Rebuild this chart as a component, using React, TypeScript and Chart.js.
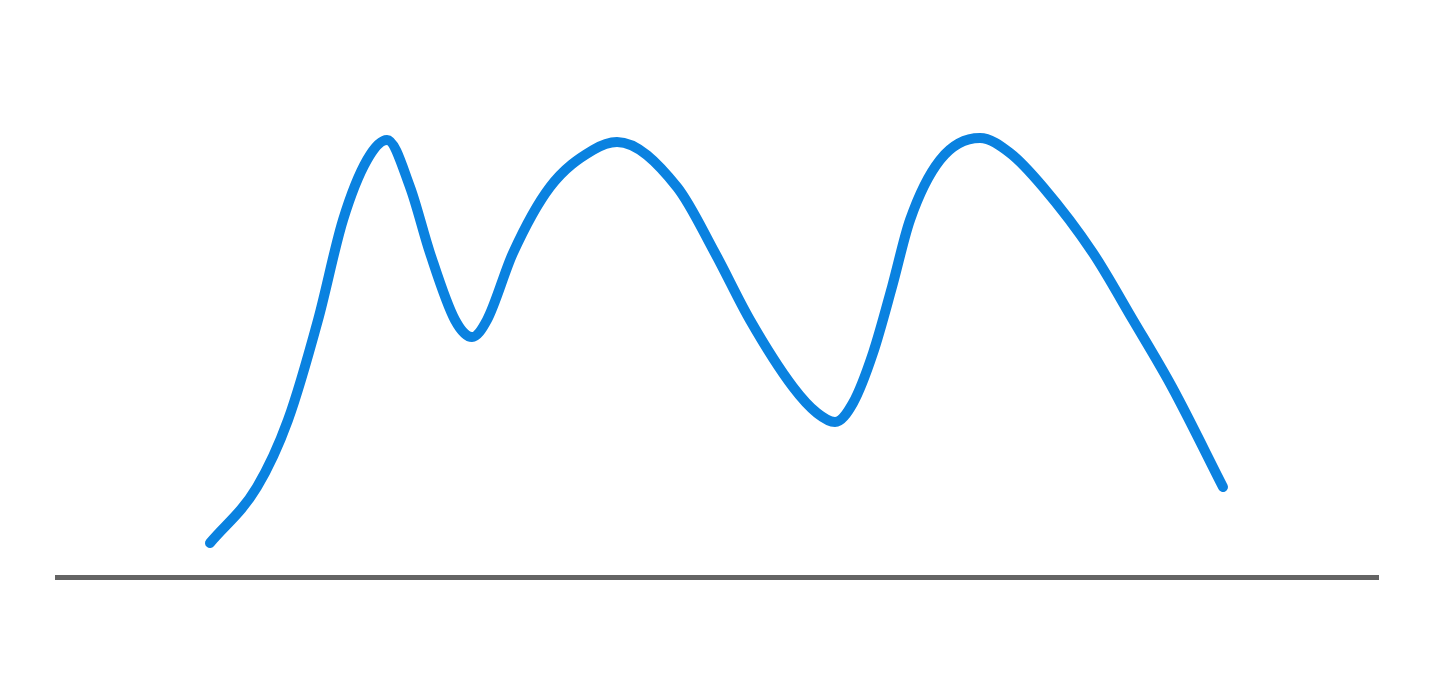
import React, { useEffect, useRef } from "react";
import { Chart, registerables } from "chart.js";

Chart.register(...registerables);

// Readings of the curve (x position, value)
const xValues = [
  15.3, 20.0, 23.1, 26.1, 28.6, 31.0, 33.0,
  35.3, 37.3, 39.8, 41.5,
  43.0, 45.6, 49.3, 53.6, 56.0,
  62.0, 65.8, 69.3, 73.6, 76.0, 77.8,
  79.6, 81.6, 83.5, 85.3, 88.3, 92.3,
  95.3, 98.6, 103.6, 107.6, 111.5, 116.6,
];
const yValues = [
  3.4, 9.0, 15.7, 25.7, 35.7, 41.7, 43.7,
  39.0, 32.4, 25.7, 24.0,
  25.7, 32.4, 39.0, 42.7, 43.5,
  39.0, 32.4, 25.7, 19.0, 16.4, 15.5,
  17.4, 22.4, 29.0, 35.7, 41.7, 43.9,
  42.4, 39.0, 32.4, 25.7, 19.0, 9.0,
];

const xMin = 0;
const xMax = 132.1;
const yMin = 0;
const yMax = 54;

export default function App() {
  const ref = useRef<HTMLCanvasElement | null>(null);

  useEffect(() => {
    if (!ref.current) return;
    const points = xValues.map((x, i) => ({ x, y: yValues[i] }));
    const chart = new Chart(ref.current, {
      type: "line",
      data: {
        datasets: [
          {
            data: points,
            borderColor: "#0a82e0",
            borderWidth: 10,
            borderCapStyle: "round",
            borderJoinStyle: "round",
            pointRadius: 0,
            cubicInterpolationMode: "monotone",
            fill: false,
          },
        ],
      },
      options: {
        animation: false,
        responsive: true,
        maintainAspectRatio: false,
        layout: { padding: { left: 57, right: 62, top: 37, bottom: 99 } },
        plugins: { legend: { display: false }, tooltip: { enabled: false } },
        scales: {
          x: {
            type: "linear",
            min: xMin,
            max: xMax,
            display: true,
            ticks: { display: false },
            grid: { display: false, drawTicks: false },
            border: { display: true, color: "#646464", width: 5 },
          },
          y: {
            min: yMin,
            max: yMax,
            display: false,
          },
        },
      },
    });
    return () => chart.destroy();
  }, []);

  return (
    <div style={{ position: "fixed", left: 0, top: 0, width: 1440, height: 676, background: "#fff" }}>
      <canvas ref={ref} />
    </div>
  );
}
